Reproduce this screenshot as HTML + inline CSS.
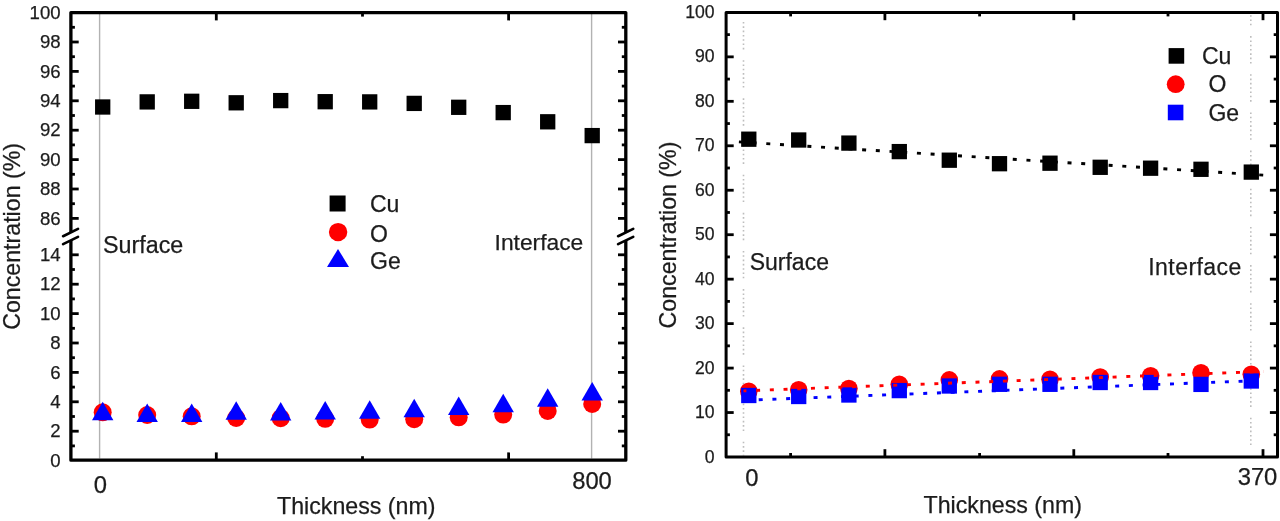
<!DOCTYPE html>
<html><head><meta charset="utf-8"><title>Concentration profiles</title>
<style>
html,body{margin:0;padding:0;background:#fff;}
body{width:1280px;height:521px;overflow:hidden;}
svg{display:block;will-change:transform;}
text{font-family:"Liberation Sans",sans-serif;fill:#1c1c1c;stroke:#1c1c1c;stroke-width:0.25px;}
.tl{font-size:18.6px;text-anchor:end;}
.lg{font-size:23px;}
.an{font-size:23.3px;}
.xl{font-size:23.8px;}
.ti{font-size:23.2px;}
</style></head><body>
<svg width="1280" height="521" viewBox="0 0 1280 521">
<rect width="1280" height="521" fill="#fff"/>
<g>
<line x1="99.6" y1="14" x2="99.6" y2="458.5" stroke="#b2b2b2" stroke-width="1.4"/>
<line x1="591.6" y1="14" x2="591.6" y2="458.5" stroke="#b2b2b2" stroke-width="1.4"/>
<path d="M70.9 232.3 L70.9 12.6 L625.8 12.6 L625.8 232.3" fill="none" stroke="#000" stroke-width="3.3" stroke-linejoin="round"/>
<path d="M70.9 239.9 L70.9 460.2 L625.8 460.2 L625.8 239.9" fill="none" stroke="#000" stroke-width="3.3" stroke-linejoin="round"/>
<line x1="63.1" y1="236.2" x2="78" y2="228.9" stroke="#000" stroke-width="2.7" stroke-linecap="round"/>
<line x1="63.1" y1="244.1" x2="78" y2="236.9" stroke="#000" stroke-width="2.7" stroke-linecap="round"/>
<line x1="618.1" y1="236.2" x2="633.2" y2="228.9" stroke="#000" stroke-width="2.7" stroke-linecap="round"/>
<line x1="618.1" y1="244.1" x2="633.2" y2="236.9" stroke="#000" stroke-width="2.7" stroke-linecap="round"/>
<line x1="70.9" y1="12.6" x2="78.7" y2="12.6" stroke="#000" stroke-width="2.8"/>
<line x1="625.8" y1="12.6" x2="618" y2="12.6" stroke="#000" stroke-width="2.8"/>
<line x1="70.9" y1="27.3" x2="74.9" y2="27.3" stroke="#000" stroke-width="2.8"/>
<line x1="625.8" y1="27.3" x2="621.8" y2="27.3" stroke="#000" stroke-width="2.8"/>
<line x1="70.9" y1="42" x2="78.7" y2="42" stroke="#000" stroke-width="2.8"/>
<line x1="625.8" y1="42" x2="618" y2="42" stroke="#000" stroke-width="2.8"/>
<line x1="70.9" y1="56.7" x2="74.9" y2="56.7" stroke="#000" stroke-width="2.8"/>
<line x1="625.8" y1="56.7" x2="621.8" y2="56.7" stroke="#000" stroke-width="2.8"/>
<line x1="70.9" y1="71.4" x2="78.7" y2="71.4" stroke="#000" stroke-width="2.8"/>
<line x1="625.8" y1="71.4" x2="618" y2="71.4" stroke="#000" stroke-width="2.8"/>
<line x1="70.9" y1="86.1" x2="74.9" y2="86.1" stroke="#000" stroke-width="2.8"/>
<line x1="625.8" y1="86.1" x2="621.8" y2="86.1" stroke="#000" stroke-width="2.8"/>
<line x1="70.9" y1="100.8" x2="78.7" y2="100.8" stroke="#000" stroke-width="2.8"/>
<line x1="625.8" y1="100.8" x2="618" y2="100.8" stroke="#000" stroke-width="2.8"/>
<line x1="70.9" y1="115.5" x2="74.9" y2="115.5" stroke="#000" stroke-width="2.8"/>
<line x1="625.8" y1="115.5" x2="621.8" y2="115.5" stroke="#000" stroke-width="2.8"/>
<line x1="70.9" y1="130.2" x2="78.7" y2="130.2" stroke="#000" stroke-width="2.8"/>
<line x1="625.8" y1="130.2" x2="618" y2="130.2" stroke="#000" stroke-width="2.8"/>
<line x1="70.9" y1="144.9" x2="74.9" y2="144.9" stroke="#000" stroke-width="2.8"/>
<line x1="625.8" y1="144.9" x2="621.8" y2="144.9" stroke="#000" stroke-width="2.8"/>
<line x1="70.9" y1="159.6" x2="78.7" y2="159.6" stroke="#000" stroke-width="2.8"/>
<line x1="625.8" y1="159.6" x2="618" y2="159.6" stroke="#000" stroke-width="2.8"/>
<line x1="70.9" y1="174.3" x2="74.9" y2="174.3" stroke="#000" stroke-width="2.8"/>
<line x1="625.8" y1="174.3" x2="621.8" y2="174.3" stroke="#000" stroke-width="2.8"/>
<line x1="70.9" y1="189" x2="78.7" y2="189" stroke="#000" stroke-width="2.8"/>
<line x1="625.8" y1="189" x2="618" y2="189" stroke="#000" stroke-width="2.8"/>
<line x1="70.9" y1="203.7" x2="74.9" y2="203.7" stroke="#000" stroke-width="2.8"/>
<line x1="625.8" y1="203.7" x2="621.8" y2="203.7" stroke="#000" stroke-width="2.8"/>
<line x1="70.9" y1="218.4" x2="78.7" y2="218.4" stroke="#000" stroke-width="2.8"/>
<line x1="625.8" y1="218.4" x2="618" y2="218.4" stroke="#000" stroke-width="2.8"/>
<line x1="70.9" y1="254.8" x2="78.7" y2="254.8" stroke="#000" stroke-width="2.8"/>
<line x1="625.8" y1="254.8" x2="618" y2="254.8" stroke="#000" stroke-width="2.8"/>
<line x1="70.9" y1="269.5" x2="74.9" y2="269.5" stroke="#000" stroke-width="2.8"/>
<line x1="625.8" y1="269.5" x2="621.8" y2="269.5" stroke="#000" stroke-width="2.8"/>
<line x1="70.9" y1="284.2" x2="78.7" y2="284.2" stroke="#000" stroke-width="2.8"/>
<line x1="625.8" y1="284.2" x2="618" y2="284.2" stroke="#000" stroke-width="2.8"/>
<line x1="70.9" y1="298.9" x2="74.9" y2="298.9" stroke="#000" stroke-width="2.8"/>
<line x1="625.8" y1="298.9" x2="621.8" y2="298.9" stroke="#000" stroke-width="2.8"/>
<line x1="70.9" y1="313.6" x2="78.7" y2="313.6" stroke="#000" stroke-width="2.8"/>
<line x1="625.8" y1="313.6" x2="618" y2="313.6" stroke="#000" stroke-width="2.8"/>
<line x1="70.9" y1="328.3" x2="74.9" y2="328.3" stroke="#000" stroke-width="2.8"/>
<line x1="625.8" y1="328.3" x2="621.8" y2="328.3" stroke="#000" stroke-width="2.8"/>
<line x1="70.9" y1="343" x2="78.7" y2="343" stroke="#000" stroke-width="2.8"/>
<line x1="625.8" y1="343" x2="618" y2="343" stroke="#000" stroke-width="2.8"/>
<line x1="70.9" y1="357.7" x2="74.9" y2="357.7" stroke="#000" stroke-width="2.8"/>
<line x1="625.8" y1="357.7" x2="621.8" y2="357.7" stroke="#000" stroke-width="2.8"/>
<line x1="70.9" y1="372.4" x2="78.7" y2="372.4" stroke="#000" stroke-width="2.8"/>
<line x1="625.8" y1="372.4" x2="618" y2="372.4" stroke="#000" stroke-width="2.8"/>
<line x1="70.9" y1="387.1" x2="74.9" y2="387.1" stroke="#000" stroke-width="2.8"/>
<line x1="625.8" y1="387.1" x2="621.8" y2="387.1" stroke="#000" stroke-width="2.8"/>
<line x1="70.9" y1="401.8" x2="78.7" y2="401.8" stroke="#000" stroke-width="2.8"/>
<line x1="625.8" y1="401.8" x2="618" y2="401.8" stroke="#000" stroke-width="2.8"/>
<line x1="70.9" y1="416.5" x2="74.9" y2="416.5" stroke="#000" stroke-width="2.8"/>
<line x1="625.8" y1="416.5" x2="621.8" y2="416.5" stroke="#000" stroke-width="2.8"/>
<line x1="70.9" y1="431.2" x2="78.7" y2="431.2" stroke="#000" stroke-width="2.8"/>
<line x1="625.8" y1="431.2" x2="618" y2="431.2" stroke="#000" stroke-width="2.8"/>
<line x1="70.9" y1="445.9" x2="74.9" y2="445.9" stroke="#000" stroke-width="2.8"/>
<line x1="625.8" y1="445.9" x2="621.8" y2="445.9" stroke="#000" stroke-width="2.8"/>
<line x1="216.3" y1="460.2" x2="216.3" y2="452.4" stroke="#000" stroke-width="2.8"/>
<line x1="216.3" y1="12.6" x2="216.3" y2="20.4" stroke="#000" stroke-width="2.8"/>
<line x1="362.5" y1="460.2" x2="362.5" y2="456.2" stroke="#000" stroke-width="2.8"/>
<line x1="362.5" y1="12.6" x2="362.5" y2="16.6" stroke="#000" stroke-width="2.8"/>
<line x1="508.6" y1="460.2" x2="508.6" y2="452.4" stroke="#000" stroke-width="2.8"/>
<line x1="508.6" y1="12.6" x2="508.6" y2="20.4" stroke="#000" stroke-width="2.8"/>
<text x="60.6" y="18.7" class="tl">100</text>
<text x="60.6" y="48.1" class="tl">98</text>
<text x="60.6" y="77.5" class="tl">96</text>
<text x="60.6" y="106.9" class="tl">94</text>
<text x="60.6" y="136.3" class="tl">92</text>
<text x="60.6" y="165.7" class="tl">90</text>
<text x="60.6" y="195.1" class="tl">88</text>
<text x="60.6" y="224.5" class="tl">86</text>
<text x="60.6" y="260.9" class="tl">14</text>
<text x="60.6" y="290.3" class="tl">12</text>
<text x="60.6" y="319.7" class="tl">10</text>
<text x="60.6" y="349.1" class="tl">8</text>
<text x="60.6" y="378.5" class="tl">6</text>
<text x="60.6" y="407.9" class="tl">4</text>
<text x="60.6" y="437.3" class="tl">2</text>
<text x="60.6" y="466.7" class="tl">0</text>
<rect x="95.05" y="99.35" width="15.3" height="15.3" fill="#000"/>
<rect x="139.55" y="94.25" width="15.3" height="15.3" fill="#000"/>
<rect x="184.05" y="93.65" width="15.3" height="15.3" fill="#000"/>
<rect x="228.55" y="95.15" width="15.3" height="15.3" fill="#000"/>
<rect x="273.05" y="92.95" width="15.3" height="15.3" fill="#000"/>
<rect x="317.55" y="94.05" width="15.3" height="15.3" fill="#000"/>
<rect x="362.05" y="94.25" width="15.3" height="15.3" fill="#000"/>
<rect x="406.55" y="95.75" width="15.3" height="15.3" fill="#000"/>
<rect x="451.05" y="99.65" width="15.3" height="15.3" fill="#000"/>
<rect x="495.55" y="104.95" width="15.3" height="15.3" fill="#000"/>
<rect x="540.05" y="114.15" width="15.3" height="15.3" fill="#000"/>
<rect x="584.55" y="127.95" width="15.3" height="15.3" fill="#000"/>
<circle cx="102.7" cy="412.3" r="9.0" fill="#f00"/>
<circle cx="147.2" cy="415" r="9.0" fill="#f00"/>
<circle cx="191.7" cy="416.3" r="9.0" fill="#f00"/>
<circle cx="236.2" cy="418" r="9.0" fill="#f00"/>
<circle cx="280.7" cy="418.2" r="9.0" fill="#f00"/>
<circle cx="325.2" cy="418.8" r="9.0" fill="#f00"/>
<circle cx="369.7" cy="419.6" r="9.0" fill="#f00"/>
<circle cx="414.2" cy="419.2" r="9.0" fill="#f00"/>
<circle cx="458.7" cy="417.3" r="9.0" fill="#f00"/>
<circle cx="503.2" cy="414.6" r="9.0" fill="#f00"/>
<circle cx="547.7" cy="410.9" r="9.0" fill="#f00"/>
<circle cx="592.2" cy="403.9" r="9.0" fill="#f00"/>
<path d="M102.7 401.75L113.4 420.25L92 420.25Z" fill="#00f"/>
<path d="M147.2 403.55L157.9 422.05L136.5 422.05Z" fill="#00f"/>
<path d="M191.7 403.55L202.4 422.05L181 422.05Z" fill="#00f"/>
<path d="M236.2 401.15L246.9 419.65L225.5 419.65Z" fill="#00f"/>
<path d="M280.7 402.05L291.4 420.55L270 420.55Z" fill="#00f"/>
<path d="M325.2 401.05L335.9 419.55L314.5 419.55Z" fill="#00f"/>
<path d="M369.7 400.15L380.4 418.65L359 418.65Z" fill="#00f"/>
<path d="M414.2 398.65L424.9 417.15L403.5 417.15Z" fill="#00f"/>
<path d="M458.7 396.45L469.4 414.95L448 414.95Z" fill="#00f"/>
<path d="M503.2 393.75L513.9 412.25L492.5 412.25Z" fill="#00f"/>
<path d="M547.7 388.25L558.4 406.75L537 406.75Z" fill="#00f"/>
<path d="M592.2 382.05L602.9 400.55L581.5 400.55Z" fill="#00f"/>
<rect x="329.6" y="195.5" width="16" height="16" fill="#000"/>
<circle cx="338.1" cy="232.1" r="9.2" fill="#f00"/>
<path d="M338 248.9L349 267.1L327 267.1Z" fill="#00f"/>
<text x="370" y="212.3" class="lg">Cu</text>
<text x="370" y="242.4" class="lg">O</text>
<text x="370" y="268.6" class="lg">Ge</text>
<text x="103" y="252.8" class="an">Surface</text>
<text x="494.6" y="250" class="an" style="font-size:22.8px">Interface</text>
<text x="100.4" y="492.8" class="xl" text-anchor="middle">0</text>
<text x="592" y="489" class="xl" text-anchor="middle">800</text>
<text x="277" y="513.5" class="ti">Thickness (nm)</text>
<text transform="translate(20.2 236.4) rotate(-90)" class="ti" text-anchor="middle">Concentration (%)</text>
<line x1="743.5" y1="14.2" x2="743.5" y2="455.4" stroke="#bdbdbd" stroke-width="1.6" stroke-dasharray="1.6 2.7 1.6 2.7 1.6 2.7 1.6 2.7 1.6 2.7 1.6 2.7 1.6 10.76" stroke-dashoffset="30.36"/>
<line x1="1250.8" y1="14.2" x2="1250.8" y2="455.4" stroke="#bdbdbd" stroke-width="1.6" stroke-dasharray="1.6 2.7 1.6 2.7 1.6 2.7 1.6 2.7 1.6 2.7 1.6 2.7 1.6 10.76" stroke-dashoffset="16.26"/>
<path d="M726.1 12.4 L1277.5 12.4 L1277.5 457 L726.1 457 Z" fill="none" stroke="#000" stroke-width="3" stroke-linejoin="round"/>
<line x1="726.1" y1="434.77" x2="729.9" y2="434.77" stroke="#000" stroke-width="2.8"/>
<line x1="1277.5" y1="434.77" x2="1273.7" y2="434.77" stroke="#000" stroke-width="2.8"/>
<line x1="726.1" y1="412.54" x2="733.7" y2="412.54" stroke="#000" stroke-width="2.8"/>
<line x1="1277.5" y1="412.54" x2="1269.9" y2="412.54" stroke="#000" stroke-width="2.8"/>
<line x1="726.1" y1="390.31" x2="729.9" y2="390.31" stroke="#000" stroke-width="2.8"/>
<line x1="1277.5" y1="390.31" x2="1273.7" y2="390.31" stroke="#000" stroke-width="2.8"/>
<line x1="726.1" y1="368.08" x2="733.7" y2="368.08" stroke="#000" stroke-width="2.8"/>
<line x1="1277.5" y1="368.08" x2="1269.9" y2="368.08" stroke="#000" stroke-width="2.8"/>
<line x1="726.1" y1="345.85" x2="729.9" y2="345.85" stroke="#000" stroke-width="2.8"/>
<line x1="1277.5" y1="345.85" x2="1273.7" y2="345.85" stroke="#000" stroke-width="2.8"/>
<line x1="726.1" y1="323.62" x2="733.7" y2="323.62" stroke="#000" stroke-width="2.8"/>
<line x1="1277.5" y1="323.62" x2="1269.9" y2="323.62" stroke="#000" stroke-width="2.8"/>
<line x1="726.1" y1="301.39" x2="729.9" y2="301.39" stroke="#000" stroke-width="2.8"/>
<line x1="1277.5" y1="301.39" x2="1273.7" y2="301.39" stroke="#000" stroke-width="2.8"/>
<line x1="726.1" y1="279.16" x2="733.7" y2="279.16" stroke="#000" stroke-width="2.8"/>
<line x1="1277.5" y1="279.16" x2="1269.9" y2="279.16" stroke="#000" stroke-width="2.8"/>
<line x1="726.1" y1="256.93" x2="729.9" y2="256.93" stroke="#000" stroke-width="2.8"/>
<line x1="1277.5" y1="256.93" x2="1273.7" y2="256.93" stroke="#000" stroke-width="2.8"/>
<line x1="726.1" y1="234.7" x2="733.7" y2="234.7" stroke="#000" stroke-width="2.8"/>
<line x1="1277.5" y1="234.7" x2="1269.9" y2="234.7" stroke="#000" stroke-width="2.8"/>
<line x1="726.1" y1="212.47" x2="729.9" y2="212.47" stroke="#000" stroke-width="2.8"/>
<line x1="1277.5" y1="212.47" x2="1273.7" y2="212.47" stroke="#000" stroke-width="2.8"/>
<line x1="726.1" y1="190.24" x2="733.7" y2="190.24" stroke="#000" stroke-width="2.8"/>
<line x1="1277.5" y1="190.24" x2="1269.9" y2="190.24" stroke="#000" stroke-width="2.8"/>
<line x1="726.1" y1="168.01" x2="729.9" y2="168.01" stroke="#000" stroke-width="2.8"/>
<line x1="1277.5" y1="168.01" x2="1273.7" y2="168.01" stroke="#000" stroke-width="2.8"/>
<line x1="726.1" y1="145.78" x2="733.7" y2="145.78" stroke="#000" stroke-width="2.8"/>
<line x1="1277.5" y1="145.78" x2="1269.9" y2="145.78" stroke="#000" stroke-width="2.8"/>
<line x1="726.1" y1="123.55" x2="729.9" y2="123.55" stroke="#000" stroke-width="2.8"/>
<line x1="1277.5" y1="123.55" x2="1273.7" y2="123.55" stroke="#000" stroke-width="2.8"/>
<line x1="726.1" y1="101.32" x2="733.7" y2="101.32" stroke="#000" stroke-width="2.8"/>
<line x1="1277.5" y1="101.32" x2="1269.9" y2="101.32" stroke="#000" stroke-width="2.8"/>
<line x1="726.1" y1="79.09" x2="729.9" y2="79.09" stroke="#000" stroke-width="2.8"/>
<line x1="1277.5" y1="79.09" x2="1273.7" y2="79.09" stroke="#000" stroke-width="2.8"/>
<line x1="726.1" y1="56.86" x2="733.7" y2="56.86" stroke="#000" stroke-width="2.8"/>
<line x1="1277.5" y1="56.86" x2="1269.9" y2="56.86" stroke="#000" stroke-width="2.8"/>
<line x1="726.1" y1="34.63" x2="729.9" y2="34.63" stroke="#000" stroke-width="2.8"/>
<line x1="1277.5" y1="34.63" x2="1273.7" y2="34.63" stroke="#000" stroke-width="2.8"/>
<line x1="790.6" y1="457" x2="790.6" y2="453" stroke="#000" stroke-width="2.8"/>
<line x1="790.6" y1="12.4" x2="790.6" y2="16.4" stroke="#000" stroke-width="2.8"/>
<line x1="884.9" y1="457" x2="884.9" y2="449.2" stroke="#000" stroke-width="2.8"/>
<line x1="884.9" y1="12.4" x2="884.9" y2="20.2" stroke="#000" stroke-width="2.8"/>
<line x1="979.6" y1="457" x2="979.6" y2="453" stroke="#000" stroke-width="2.8"/>
<line x1="979.6" y1="12.4" x2="979.6" y2="16.4" stroke="#000" stroke-width="2.8"/>
<line x1="1073.8" y1="457" x2="1073.8" y2="449.2" stroke="#000" stroke-width="2.8"/>
<line x1="1073.8" y1="12.4" x2="1073.8" y2="20.2" stroke="#000" stroke-width="2.8"/>
<line x1="1168" y1="457" x2="1168" y2="453" stroke="#000" stroke-width="2.8"/>
<line x1="1168" y1="12.4" x2="1168" y2="16.4" stroke="#000" stroke-width="2.8"/>
<line x1="1263" y1="457" x2="1263" y2="449.2" stroke="#000" stroke-width="2.8"/>
<line x1="1263" y1="12.4" x2="1263" y2="20.2" stroke="#000" stroke-width="2.8"/>
<text x="714.6" y="462.5" class="tl" style="font-size:17.6px">0</text>
<text x="714.6" y="418.04" class="tl" style="font-size:17.6px">10</text>
<text x="714.6" y="373.58" class="tl" style="font-size:17.6px">20</text>
<text x="714.6" y="329.12" class="tl" style="font-size:17.6px">30</text>
<text x="714.6" y="284.66" class="tl" style="font-size:17.6px">40</text>
<text x="714.6" y="240.2" class="tl" style="font-size:17.6px">50</text>
<text x="714.6" y="195.74" class="tl" style="font-size:17.6px">60</text>
<text x="714.6" y="151.28" class="tl" style="font-size:17.6px">70</text>
<text x="714.6" y="106.82" class="tl" style="font-size:17.6px">80</text>
<text x="714.6" y="62.36" class="tl" style="font-size:17.6px">90</text>
<text x="714.6" y="17.9" class="tl" style="font-size:17.6px">100</text>
<rect x="741.15" y="131.55" width="15.3" height="15.3" fill="#000"/>
<rect x="791.05" y="132.35" width="15.3" height="15.3" fill="#000"/>
<rect x="841.25" y="135.45" width="15.3" height="15.3" fill="#000"/>
<rect x="891.65" y="143.95" width="15.3" height="15.3" fill="#000"/>
<rect x="941.65" y="152.55" width="15.3" height="15.3" fill="#000"/>
<rect x="991.85" y="156.05" width="15.3" height="15.3" fill="#000"/>
<rect x="1042.35" y="155.55" width="15.3" height="15.3" fill="#000"/>
<rect x="1092.55" y="159.65" width="15.3" height="15.3" fill="#000"/>
<rect x="1142.95" y="160.55" width="15.3" height="15.3" fill="#000"/>
<rect x="1193.35" y="161.65" width="15.3" height="15.3" fill="#000"/>
<rect x="1243.65" y="164.45" width="15.3" height="15.3" fill="#000"/>
<circle cx="748.8" cy="391.3" r="8.8" fill="#f00"/>
<circle cx="798.7" cy="389.8" r="8.8" fill="#f00"/>
<circle cx="848.9" cy="388.5" r="8.8" fill="#f00"/>
<circle cx="899.3" cy="384.3" r="8.8" fill="#f00"/>
<circle cx="949.3" cy="379.9" r="8.8" fill="#f00"/>
<circle cx="999.5" cy="378.9" r="8.8" fill="#f00"/>
<circle cx="1050" cy="379.3" r="8.8" fill="#f00"/>
<circle cx="1100.2" cy="377" r="8.8" fill="#f00"/>
<circle cx="1150.6" cy="375.8" r="8.8" fill="#f00"/>
<circle cx="1201" cy="372.8" r="8.8" fill="#f00"/>
<circle cx="1251.3" cy="374.3" r="8.8" fill="#f00"/>
<rect x="741.15" y="387.85" width="15.3" height="15.3" fill="#00f"/>
<rect x="791.05" y="388.85" width="15.3" height="15.3" fill="#00f"/>
<rect x="841.25" y="387.35" width="15.3" height="15.3" fill="#00f"/>
<rect x="891.65" y="382.95" width="15.3" height="15.3" fill="#00f"/>
<rect x="941.65" y="378.35" width="15.3" height="15.3" fill="#00f"/>
<rect x="991.85" y="376.65" width="15.3" height="15.3" fill="#00f"/>
<rect x="1042.35" y="376.65" width="15.3" height="15.3" fill="#00f"/>
<rect x="1092.55" y="374.85" width="15.3" height="15.3" fill="#00f"/>
<rect x="1142.95" y="374.85" width="15.3" height="15.3" fill="#00f"/>
<rect x="1193.35" y="376.75" width="15.3" height="15.3" fill="#00f"/>
<rect x="1243.65" y="373.35" width="15.3" height="15.3" fill="#00f"/>
<line x1="738.5" y1="141.86" x2="1263.5" y2="175.1" stroke="#000" stroke-width="2.9" stroke-dasharray="4 9.72" stroke-dashoffset="-0.4"/>
<line x1="743.5" y1="390.84" x2="1263.5" y2="371.45" stroke="#f00" stroke-width="2.9" stroke-dasharray="4 9.72" stroke-dashoffset="1.1"/>
<line x1="745.5" y1="400.28" x2="1263.5" y2="380.41" stroke="#00f" stroke-width="2.9" stroke-dasharray="4 9.72" stroke-dashoffset="0.5"/>
<rect x="1168.6" y="48.1" width="15.6" height="15.6" fill="#000"/>
<circle cx="1175.7" cy="84.2" r="8.9" fill="#f00"/>
<rect x="1167.8" y="104.7" width="15.6" height="15.6" fill="#00f"/>
<text x="1202" y="63.6" class="lg">Cu</text>
<text x="1208.4" y="92" class="lg">O</text>
<text x="1208.4" y="120.5" class="lg">Ge</text>
<text x="749.7" y="270.1" class="an" style="font-size:23px">Surface</text>
<text x="1148.3" y="275.4" class="an" style="font-size:23px" textLength="93">Interface</text>
<text x="751.8" y="485.6" class="xl" text-anchor="middle">0</text>
<text x="1257.5" y="485.2" class="xl" text-anchor="middle">370</text>
<text x="923.5" y="512.5" class="ti">Thickness (nm)</text>
<text transform="translate(675.8 235) rotate(-90)" class="ti" text-anchor="middle">Concentration (%)</text>
</g>
</svg>
</body></html>
